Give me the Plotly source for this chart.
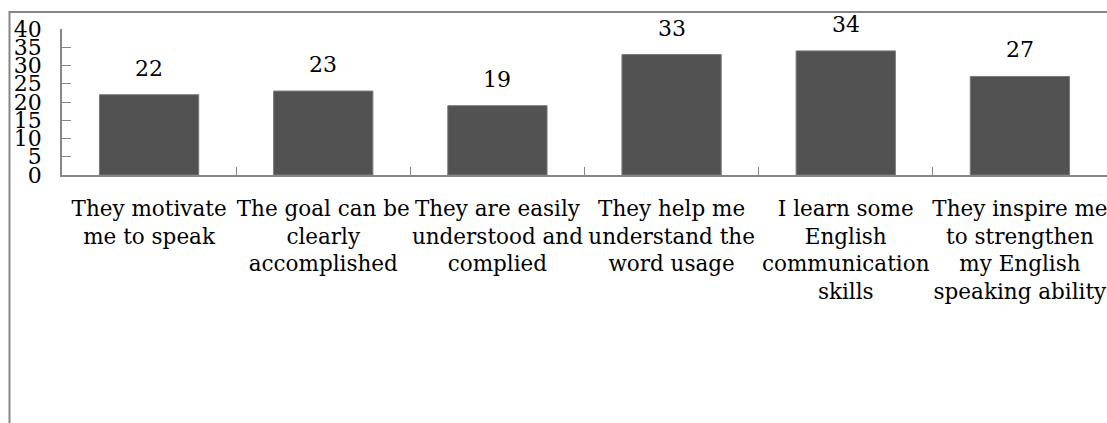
import plotly.graph_objects as go

categories = [
    "They motivate<br>me to speak",
    "The goal can be<br>clearly<br>accomplished",
    "They are easily<br>understood and<br>complied",
    "They help me<br>understand the<br>word usage",
    "I learn some<br>English<br>communication<br>skills",
    "They inspire me<br>to strengthen<br>my English<br>speaking ability",
]
values = [22, 23, 19, 33, 34, 27]
y_ticks = [0, 5, 10, 15, 20, 25, 30, 35, 40]

FONT = "DejaVu Serif"
FS = 21.5
GRAY = "#868686"

fig = go.Figure()
fig.add_trace(go.Bar(
    x=categories, y=values,
    marker=dict(color="#525252", line=dict(color="#7a7a7a", width=1)),
    hoverinfo="skip",
))
for c, v in zip(categories, values):
    fig.add_annotation(x=c, y=v, text=str(v), showarrow=False,
                       yanchor="bottom", yshift=12,
                       font=dict(family=FONT, size=22, color="#000000"))

# outer frame (only top and left edges visible in the crop)
L, R, T, B = 62, 1107, 29, 175
W, H = R - L, B - T
def px(x):
    return (x - L) / W
def py(y):
    return (B - y) / H
fig.add_shape(type="rect", xref="paper", yref="paper",
              x0=px(9.5), x1=px(1120), y0=py(12), y1=py(460),
              line=dict(color=GRAY, width=2), fillcolor="rgba(0,0,0,0)", layer="below")

fig.update_layout(
    width=1107, height=423,
    margin=dict(l=L, r=1107 - R, t=T, b=423 - B),
    paper_bgcolor="white", plot_bgcolor="white",
    bargap=0.43, showlegend=False,
    font=dict(family=FONT, size=FS, color="#000000"),
)
fig.update_xaxes(
    type="category", showline=True, linecolor=GRAY, linewidth=1.5,
    ticks="inside", tickson="boundaries", ticklen=8, tickcolor=GRAY,
    tickfont=dict(family=FONT, size=FS, color="#000000"),
    showgrid=False, zeroline=False, tickangle=0, ticklabelstandoff=13,
    automargin=False,
)
fig.update_yaxes(
    range=[0, 40], tickvals=y_ticks, ticktext=[str(t) for t in y_ticks],
    showline=True, linecolor=GRAY, linewidth=1.5,
    ticks="inside", ticklen=9, tickcolor=GRAY,
    tickfont=dict(family=FONT, size=22, color="#000000"),
    showgrid=False, zeroline=False, ticklabelstandoff=14,
    automargin=False,
)

fig.write_html("out.html")
